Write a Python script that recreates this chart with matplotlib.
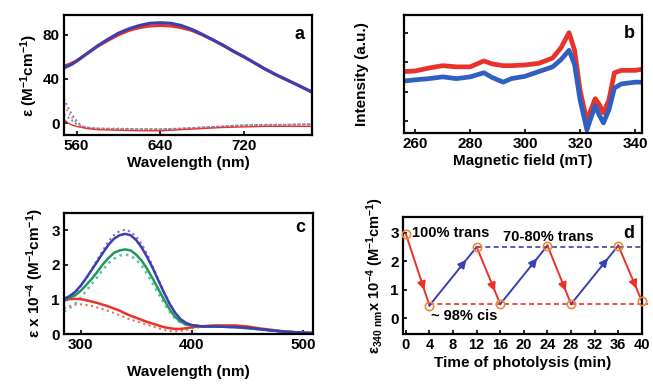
from matplotlib import pyplot as plt

## PARAMETERS
plt.rcParams['font.family'] = ['Liberation Sans', 'DejaVu Sans']
plt.rcParams['font.weight'] = 'bold'
plt.rcParams['axes.labelweight'] = 'bold'
plt.rcParams['mathtext.default'] = 'bf'
plt.rcParams['mathtext.fontset'] = 'custom'
plt.rcParams['mathtext.bf'] = 'Liberation Sans:bold'
plt.rcParams['mathtext.rm'] = 'Liberation Sans:bold'

BLUE = "#3b3fb0"
RED = "#e8322a"
GREEN = "#1f9a5c"
ORANGE = "#ec8a3c"

# Panel a: visible band
wl_a = [548, 555, 560, 570, 580, 590, 600, 610, 620, 630, 640, 650, 660,
        670, 680, 690, 700, 710, 720, 730, 740, 750, 760, 770, 785]
eps_a_blue = [50, 53, 56, 63, 70, 76, 81.5, 85.5, 88.5, 90.5, 91, 90.5, 88.5,
              85, 80.5, 75.5, 70.5, 65, 60, 54.5, 49, 44, 39.5, 35, 28]
eps_a_red = [51.5, 54, 56.5, 63, 69.5, 75, 80, 84, 86.5, 88, 88.5, 88, 86.5,
             84, 80, 75.5, 70.5, 65, 60, 54.5, 49, 44, 39.5, 35, 28]
wl_a_low = [548, 552, 556, 560, 565, 570, 580, 600, 620, 640, 660, 680, 700,
            720, 740, 760, 785]
eps_a_low_purple = [22, 14, 7, 2, -3, -4, -5, -5.5, -6, -6, -5, -4, -3, -2, -2, -1.5, -1]
eps_a_low_orange = [16, 10, 4, 0, -3, -4, -5, -5.5, -5.5, -5.5, -5, -4, -3.5, -2.5, -2, -2, -1.5]
eps_a_low_blue = [8, 5, 2, -1, -3, -4, -5, -5, -5.5, -5.5, -5, -4, -3, -2, -1.5, -1.5, -1]
eps_a_low_red = [3, 0, -2, -3, -4, -5, -6, -6.5, -7, -7, -6, -5, -4, -3.5, -3, -3, -3]

# Panel b: EPR
field_b = [256, 260, 265, 270, 275, 280, 285, 288, 292, 295, 300, 305, 310,
           313, 316, 318, 320, 322.5, 324, 325.5, 327, 328.5, 330.5, 332.5,
           335, 340, 342.5]
epr_red = [52, 52.5, 55, 57, 56, 56, 61, 58.5, 57, 57, 57.6, 59, 63.5,
           72, 85, 70, 36, 10, 20, 29, 24, 17, 28, 51, 53, 53, 54]
epr_blue = [44, 45, 46, 47.5, 46, 47.5, 51, 47, 43, 46, 48, 52, 56,
            62, 70, 58, 28, 2.5, 13, 23, 15, 8.5, 19.5, 38, 41.5, 43, 43]

# Panel c: UV band
wl_c = [285, 290, 295, 300, 305, 310, 315, 320, 325, 330, 335, 340, 345, 350,
        355, 360, 365, 370, 375, 380, 385, 390, 395, 400, 410, 420, 430, 440,
        450, 460, 470, 480, 490, 500, 510]
eps_c_blue = [1.02, 1.1, 1.22, 1.4, 1.62, 1.86, 2.1, 2.35, 2.58, 2.76, 2.86, 2.9,
              2.86, 2.72, 2.5, 2.22, 1.9, 1.55, 1.2, 0.88, 0.62, 0.43, 0.32, 0.26,
              0.22, 0.22, 0.21, 0.2, 0.18, 0.15, 0.11, 0.08, 0.06, 0.04, 0.03]
eps_c_blue_dot = [0.95, 1.05, 1.18, 1.38, 1.62, 1.88, 2.15, 2.42, 2.68, 2.86, 2.98,
                  3.02, 2.96, 2.82, 2.6, 2.3, 1.95, 1.58, 1.22, 0.9, 0.62, 0.43,
                  0.32, 0.26, 0.22, 0.22, 0.21, 0.2, 0.18, 0.15, 0.11, 0.08, 0.06,
                  0.04, 0.03]
eps_c_green = [1.0, 1.05, 1.12, 1.25, 1.42, 1.6, 1.8, 2.02, 2.2, 2.35, 2.42, 2.45,
               2.42, 2.3, 2.12, 1.88, 1.6, 1.3, 1.0, 0.72, 0.5, 0.36, 0.28, 0.25,
               0.22, 0.22, 0.21, 0.2, 0.17, 0.14, 0.11, 0.08, 0.06, 0.04, 0.03]
eps_c_green_dot = [0.65, 0.75, 0.88, 1.05, 1.25, 1.45, 1.65, 1.86, 2.05, 2.18, 2.27,
                   2.3, 2.27, 2.15, 1.97, 1.73, 1.45, 1.17, 0.9, 0.65, 0.45, 0.33,
                   0.26, 0.24, 0.22, 0.22, 0.21, 0.2, 0.17, 0.14, 0.11, 0.08, 0.06,
                   0.04, 0.03]
eps_c_red = [1.0, 1.01, 1.02, 1.01, 0.98, 0.94, 0.9, 0.85, 0.8, 0.74, 0.68, 0.6,
             0.53, 0.47, 0.41, 0.35, 0.3, 0.25, 0.2, 0.17, 0.15, 0.15, 0.17, 0.2,
             0.23, 0.25, 0.25, 0.25, 0.22, 0.17, 0.13, 0.09, 0.06, 0.04, 0.03]
eps_c_red_dot = [0.75, 0.81, 0.85, 0.86, 0.84, 0.81, 0.77, 0.72, 0.67, 0.61, 0.55,
                 0.48, 0.42, 0.37, 0.32, 0.27, 0.22, 0.17, 0.12, 0.09, 0.08, 0.09,
                 0.12, 0.17, 0.21, 0.23, 0.23, 0.23, 0.2, 0.16, 0.12, 0.08, 0.06,
                 0.04, 0.03]

# Panel d: photolysis cycles
time_d = [0, 4, 12, 16, 24, 28, 36, 40]
eps_d = [2.95, 0.45, 2.5, 0.5, 2.55, 0.5, 2.55, 0.6]
trans_level = 2.5
cis_level = 0.5


def style_axes(ax):
    for s in ax.spines.values():
        s.set_linewidth(1.6)
    ax.tick_params(direction='in', length=3, width=1.2, labelsize=11, pad=3)


# Script
def main():
    fig = plt.figure(figsize=(6.53, 3.84), dpi=100)

    # a
    ax = fig.add_axes([0.098, 0.648, 0.380, 0.313])
    ax.plot(wl_a_low, eps_a_low_purple, ':', color="#8a5ac8", lw=1.3)
    ax.plot(wl_a_low, eps_a_low_orange, ':', color=ORANGE, lw=1.3)
    ax.plot(wl_a_low, eps_a_low_blue, ':', color="#4a8ad8", lw=1.3)
    ax.plot(wl_a_low, eps_a_low_red, '-', color=RED, lw=1.0)
    ax.plot(wl_a, eps_a_red, color=RED, lw=2.2)
    ax.plot(wl_a, eps_a_blue, color=BLUE, lw=2.2)
    ax.set_xlim(548, 785)
    ax.set_ylim(-11, 98)
    ax.set_xticks([560, 640, 720])
    ax.set_yticks([0, 40, 80])
    ax.set_xlabel("Wavelength (nm)", fontsize=11, labelpad=2)
    ax.set_ylabel(r"ε (M$^{-1}$cm$^{-1}$)", fontsize=11, labelpad=2)
    ax.text(0.97, 0.84, "a", transform=ax.transAxes, ha='right', va='center',
            fontsize=13, fontweight='bold')
    style_axes(ax)

    # b
    ax = fig.add_axes([0.619, 0.654, 0.364, 0.307])
    ax.plot(field_b, epr_red, color=RED, lw=3.4)
    ax.plot(field_b, epr_blue, color="#2f5fc0", lw=3.4)
    ax.set_xlim(256, 342.5)
    ax.set_ylim(0, 100)
    ax.set_xticks([260, 280, 300, 320, 340])
    ax.set_yticks([10, 35, 60, 85])
    ax.set_yticklabels([])
    ax.set_xlabel("Magnetic field (mT)", fontsize=11, labelpad=2)
    ax.set_ylabel("Intensity (a.u.)", fontsize=11, labelpad=22)
    ax.text(0.97, 0.84, "b", transform=ax.transAxes, ha='right', va='center',
            fontsize=13, fontweight='bold')
    style_axes(ax)

    # c
    ax = fig.add_axes([0.098, 0.130, 0.381, 0.315])
    ax.plot(wl_c, eps_c_red_dot, ':', color="#e07060", lw=1.5)
    ax.plot(wl_c, eps_c_green_dot, ':', color="#5cc0a8", lw=1.8)
    ax.plot(wl_c, eps_c_blue_dot, ':', color="#9060c8", lw=1.5)
    ax.plot(wl_c, eps_c_red, color=RED, lw=1.8)
    ax.plot(wl_c, eps_c_green, color=GREEN, lw=1.8)
    ax.plot(wl_c, eps_c_blue, color=BLUE, lw=1.8)
    ax.set_xlim(285, 509)
    ax.set_ylim(0, 3.5)
    ax.set_xticks([300, 400, 500])
    ax.set_yticks([0, 1, 2, 3])
    ax.set_xlabel("Wavelength (nm)", fontsize=11, labelpad=9)
    ax.set_ylabel(r"ε x 10$^{-4}$ (M$^{-1}$cm$^{-1}$)", fontsize=11, labelpad=4)
    ax.text(0.97, 0.88, "c", transform=ax.transAxes, ha='right', va='center',
            fontsize=13, fontweight='bold')
    style_axes(ax)

    # d
    ax = fig.add_axes([0.617, 0.130, 0.366, 0.305])
    ax.plot([time_d[2], 40], [trans_level, trans_level], '--', color=BLUE, lw=1.2,
            dashes=(3, 2), clip_on=False)
    ax.plot([time_d[1], 41], [cis_level, cis_level], '--', color=RED, lw=1.2,
            dashes=(3, 2), clip_on=False)
    for i in range(len(time_d) - 1):
        x0, x1 = time_d[i], time_d[i + 1]
        y0, y1 = eps_d[i], eps_d[i + 1]
        color = RED if y1 < y0 else BLUE
        ax.plot([x0, x1], [y0, y1], color=color, lw=1.4, clip_on=False)
        f = 0.82
        ax.annotate("", xy=(x0 + f * (x1 - x0), y0 + f * (y1 - y0)),
                    xytext=(x0 + 0.6 * (x1 - x0), y0 + 0.6 * (y1 - y0)),
                    arrowprops=dict(arrowstyle='-|>', color=color, lw=1.4,
                                    mutation_scale=12),
                    annotation_clip=False)
    ax.plot(time_d, eps_d, 'o', mfc='none', mec=ORANGE, ms=6, mew=1.2,
            clip_on=False, zorder=5)
    ax.set_xlim(-0.5, 39.2)
    ax.set_ylim(-0.55, 3.55)
    ax.set_xticks(list(range(0, 41, 4)))
    ax.set_yticks([0, 1, 2, 3])
    ax.set_xlabel("Time of photolysis (min)", fontsize=11, labelpad=3)
    ax.set_ylabel(r"ε$_{340\ nm}$x 10$^{-4}$ (M$^{-1}$cm$^{-1}$)", fontsize=10.5,
                  labelpad=3)
    ax.text(1.0, 3.0, "100% trans", fontsize=10.5, fontweight='bold',
            ha='left', va='center')
    ax.text(16.4, 2.86, "70-80% trans", fontsize=10.5, fontweight='bold',
            ha='left', va='center')
    ax.text(4.3, 0.07, "~ 98% cis", fontsize=10.5, fontweight='bold',
            ha='left', va='center')
    ax.text(0.97, 0.86, "d", transform=ax.transAxes, ha='right', va='center',
            fontsize=13, fontweight='bold')
    style_axes(ax)
    ax.tick_params(axis='x', labelsize=10.5)

    fig.savefig("out.png", dpi=100)


if __name__ == "__main__":
    main()
